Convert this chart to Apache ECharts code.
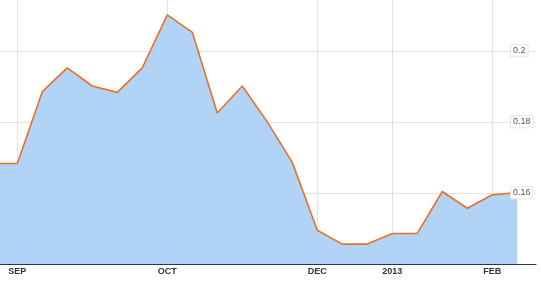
<!DOCTYPE html>
<html>
<head>
<meta charset="utf-8">
<script src="https://cdn.jsdelivr.net/npm/echarts@6/dist/echarts.min.js"></script>
<style>
html,body{margin:0;padding:0;background:#fff;}
#chart{width:541px;height:282px;}
</style>
</head>
<body>
<div id="chart"></div>
<script>
// Point positions: index -1 (partly off-chart) through 20
const pointIndex = [-1,0,1,2,3,4,5,6,7,8,9,10,11,12,13,14,15,16,17,18,19,20];
const values = [0.1683,0.1683,0.1885,0.1952,0.1901,0.1883,0.1952,0.2101,0.2052,0.1825,0.1901,0.1800,0.1686,0.1495,0.1456,0.1456,0.1486,0.1486,0.1604,0.1557,0.1595,0.1601];
const monthLabels = ['SEP','OCT','DEC','2013','FEB'];
const monthPos = [0,6,12,15,19];
const yTicks = [0.16,0.18,0.2];
const yGrid = [0.14,0.16,0.18,0.2];

const chart = echarts.init(document.getElementById('chart'), null, {renderer:'canvas'});
const data = pointIndex.map((x,i)=>[x, values[i]]);
const yBase = {type:'value', position:'right', min:0.14, max:0.2143, interval:0.02, axisLine:{show:false}};
chart.setOption({
  animation:false,
  grid:{left:0,right:5,top:0,bottom:18,containLabel:false},
  xAxis:{
    type:'value', min:-0.692, max:20.75,
    axisLine:{show:true,lineStyle:{color:'#2b3645',width:1}},
    axisTick:{show:false,customValues:monthPos},
    axisLabel:{customValues:monthPos, formatter:v=>monthLabels[monthPos.indexOf(Math.round(v))]||'',
      color:'#333',fontSize:9,fontFamily:'Arial, Liberation Sans, sans-serif',fontWeight:'bold',margin:3},
    splitLine:{show:true,lineStyle:{color:'#e2e2e2',width:1}}
  },
  yAxis:[
    Object.assign({}, yBase, {
      axisTick:{show:false,customValues:yGrid},
      axisLabel:{show:false},
      splitLine:{show:true,lineStyle:{color:'#e2e2e2',width:1}}
    }),
    Object.assign({}, yBase, {
      z:5,
      axisTick:{show:false},
      splitLine:{show:false},
      axisLabel:{customValues:yTicks, inside:true, align:'left', margin:25,
        formatter:v=>String(+v.toFixed(2)),
        color:'#555',fontSize:9,fontFamily:'Arial, Liberation Sans, sans-serif',
        backgroundColor:'#fff',borderColor:'#e4e4e4',borderWidth:1,padding:[1,2,1,2]}
    })
  ],
  series:[{
    type:'line', data:data, yAxisIndex:0, showSymbol:false, symbol:'none',
    lineStyle:{color:'#e8702c',width:1.6},
    areaStyle:{color:'#b1d3f5',opacity:1},
    z:3
  }]
});
</script>
</body>
</html>
